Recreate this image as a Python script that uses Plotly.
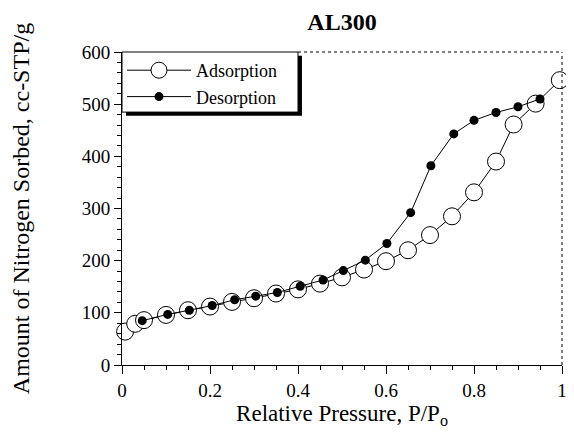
import plotly.graph_objects as go

ads_x = [0.007, 0.03, 0.05, 0.1, 0.15, 0.2, 0.25, 0.3, 0.35, 0.4, 0.45, 0.5, 0.55, 0.6, 0.65, 0.7, 0.75, 0.8, 0.85, 0.89, 0.94, 0.995]
ads_y = [64, 79, 86, 96, 105, 112, 121, 128, 137, 145, 156, 168, 183, 199, 220, 249, 285, 331, 390, 461, 501, 546]
des_x = [0.046, 0.104, 0.153, 0.205, 0.256, 0.304, 0.353, 0.405, 0.457, 0.503, 0.553, 0.602, 0.656, 0.702, 0.754, 0.8, 0.85, 0.9, 0.95]
des_y = [85, 97, 105, 114, 125, 132, 139, 151, 163, 181, 201, 233, 292, 382, 443, 469, 484, 495, 510]

x_ticks = [0, 0.2, 0.4, 0.6, 0.8, 1]
x_labels = ["0", "0.2", "0.4", "0.6", "0.8", "1"]
y_ticks = [0, 100, 200, 300, 400, 500, 600]

SERIF = "Liberation Serif, Times New Roman, serif"

fig = go.Figure()
fig.add_trace(go.Scatter(
    x=ads_x, y=ads_y, mode="lines+markers", name="Adsorption",
    line=dict(color="black", width=1),
    marker=dict(symbol="circle", size=17, color="white", line=dict(color="black", width=1)),
    cliponaxis=False,
))
fig.add_trace(go.Scatter(
    x=des_x, y=des_y, mode="lines+markers", name="Desorption",
    line=dict(color="black", width=1),
    marker=dict(symbol="circle", size=9, color="black"),
    cliponaxis=False,
))

# legend box with drop shadow
fig.add_shape(type="rect", xref="paper", yref="paper",
              x0=0.009, x1=0.409, y0=0.796, y1=0.988,
              fillcolor="black", line=dict(width=0), layer="above")
fig.add_shape(type="rect", xref="paper", yref="paper",
              x0=0.0, x1=0.4, y0=0.808, y1=1.0,
              fillcolor="white", line=dict(color="black", width=1), layer="above")
# top & right frame lines (thin dotted)
fig.add_shape(type="line", xref="paper", yref="paper", x0=0.4, x1=1, y0=1, y1=1,
              line=dict(color="black", width=1, dash="dot"))
fig.add_shape(type="line", xref="paper", yref="paper", x0=1, x1=1, y0=0, y1=1,
              line=dict(color="black", width=1, dash="dot"))

# figure sized to account for the page's default 8px body margin
fig.update_layout(
    width=566, height=431,
    margin=dict(l=114, r=7, t=44, b=74),
    paper_bgcolor="white", plot_bgcolor="white",
    font=dict(family=SERIF, color="black", size=19),
    title=dict(text="<b>AL300</b>", x=0.5, xref="paper", xanchor="center", y=0.968, yanchor="middle",
               font=dict(family=SERIF, size=24, color="black")),
    showlegend=True,
    legend=dict(x=0.0, y=1.0, xanchor="left", yanchor="top",
                bgcolor="rgba(0,0,0,0)", borderwidth=0,
                font=dict(family=SERIF, size=18, color="black"),
                itemwidth=64, tracegroupgap=0),
    xaxis=dict(range=[0, 1], tickvals=x_ticks, ticktext=x_labels,
               showgrid=False, zeroline=False, showline=True, linecolor="black", linewidth=1,
               ticks="outside", ticklen=8, tickcolor="black", ticklabeloverflow="allow",
               minor=dict(dtick=0.05, ticks="outside", ticklen=4, tickcolor="black", showgrid=False),
               tickfont=dict(family=SERIF, size=19),
               title=dict(text="Relative Pressure, P/P<sub>o</sub>", font=dict(family=SERIF, size=23), standoff=0)),
    yaxis=dict(range=[0, 600], tickvals=y_ticks,
               showgrid=False, zeroline=False, showline=True, linecolor="black", linewidth=1,
               ticks="outside", ticklen=7, tickcolor="black", ticklabeloverflow="allow",
               minor=dict(dtick=20, ticks="outside", ticklen=4, tickcolor="black", showgrid=False),
               tickfont=dict(family=SERIF, size=19),
               title=dict(text="Amount of Nitrogen Sorbed, cc-STP/g", font=dict(family=SERIF, size=24), standoff=46)),
)

fig.write_html("out.html")
